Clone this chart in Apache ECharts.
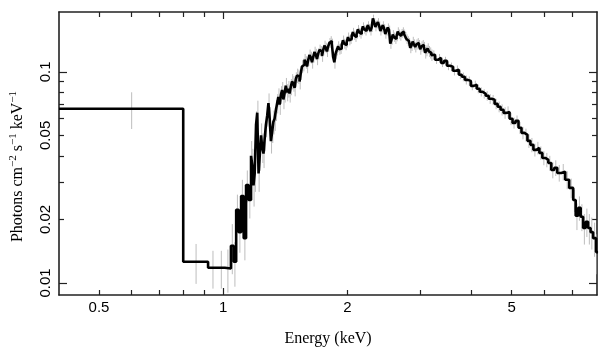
<!DOCTYPE html>
<html><head><meta charset="utf-8">
<script src="https://cdn.jsdelivr.net/npm/echarts@6/dist/echarts.min.js"></script>
<style>html,body{margin:0;padding:0;background:#fff}#c{width:609px;height:357px}</style>
</head><body><div id="c"></div>
<script>
// Lower bin edges (keV)
const binLo = [0.400,0.800,0.919,0.970,1.009,1.044,1.060,1.075,1.090,1.105,1.121,1.136,1.152,
1.168,1.176,1.184,1.192,1.201,1.209,1.218,1.226,1.235,1.243,1.252,1.260,1.269,1.278,1.287,1.296,1.305,1.314,1.323,1.332,1.342,1.351,
1.360,1.370,1.380,1.389,1.399,1.408,1.418,1.428,1.438,1.448,1.458,1.468,1.479,1.489,1.499,1.509,1.520,1.531,1.542,1.552,
1.563,1.574,1.585,1.596,1.607,1.618,1.630,1.641,1.653,1.664,1.676,1.687,1.699,1.711,1.723,1.735,1.747,1.759,1.771,1.783,
1.796,1.808,1.821,1.833,1.846,1.859,1.872,1.885,1.898,1.911,1.924,1.937,1.951,1.964,1.978,1.992,2.006,2.020,2.034,2.048,
2.062,2.076,2.091,2.105,2.120,2.135,2.150,2.165,2.180,2.195,2.211,2.226,2.242,2.257,2.273,2.289,2.305,2.321,2.337,2.353,
2.370,2.386,2.403,2.419,2.436,2.453,2.470,2.487,2.505,2.522,2.540,2.558,2.576,2.594,2.612,2.630,2.648,2.666,2.685,2.704,
2.723,2.742,2.761,2.780,2.799,2.819,2.839,2.858,2.878,2.898,2.919,2.939,2.959,2.980,3.001,3.022,3.043,3.064,3.085,3.106,
3.128,3.150,3.172,3.194,
3.216,3.261,3.316,3.371,3.428,3.485,3.544,3.603,3.664,3.725,3.787,3.851,3.915,3.981,4.048,4.116,4.185,4.255,4.326,4.399,
4.472,4.547,4.624,4.701,4.780,4.860,4.942,5.025,5.109,5.195,5.282,5.370,5.460,5.552,5.645,5.740,5.836,5.934,6.034,6.135,
6.238,6.343,6.449,6.594,6.742,6.893,7.049,7.147,7.248,7.349,7.450,7.555,7.660,7.767,7.876,8.008];
const binEnd = 8.097;
// Photons cm^-2 s^-1 keV^-1
const flux = [0.0668,0.0126,0.0118,0.0118,0.0117,0.0150,0.0126,0.0222,0.0174,0.0258,0.0163,0.0291,0.0247,
0.0400,0.0362,0.0290,0.0330,0.0560,0.0640,0.0330,0.0400,0.0500,0.0440,0.0410,0.0480,0.0560,0.0620,0.0710,0.0600,0.0470,0.0520,0.0580,0.0600,0.0660,0.0710,
0.0760,0.0700,0.0780,0.0820,0.0740,0.0790,0.0860,0.0800,0.0830,0.0790,0.0850,0.0900,0.0880,0.0840,0.0920,0.0960,0.0950,0.0900,0.0990,0.1060,
0.1080,0.1140,0.1110,0.1060,0.1140,0.1200,0.1170,0.1110,0.1180,0.1240,0.1210,0.1150,0.1220,0.1270,0.1250,0.1190,0.1270,0.1330,0.1300,0.1250,
0.1320,0.1370,0.1400,0.1360,0.1180,0.1110,0.1220,0.1270,0.1320,0.1280,0.1290,0.1340,0.1410,0.1360,0.1340,0.1380,0.1460,0.1410,0.1430,0.1480,
0.1540,0.1490,0.1460,0.1510,0.1590,0.1540,0.1510,0.1560,0.1640,0.1590,0.1560,0.1610,0.1660,0.1610,0.1560,0.1620,0.1790,0.1720,0.1630,0.1680,
0.1720,0.1660,0.1560,0.1610,0.1660,0.1610,0.1510,0.1560,0.1620,0.1580,0.1360,0.1420,0.1500,0.1460,0.1430,0.1470,0.1550,0.1510,0.1480,0.1520,
0.1550,0.1510,0.1470,0.1430,0.1400,0.1370,0.1300,0.1330,0.1390,0.1350,0.1310,0.1350,0.1370,0.1340,0.1280,0.1320,0.1340,0.1310,0.1230,0.1260,
0.1290,0.1250,0.1230,0.1200,
0.1204,0.1140,0.1165,0.1103,0.1128,0.1068,0.1056,0.1011,0.1022,0.0968,0.0947,0.0916,0.0906,0.0858,0.0868,0.0831,0.0804,0.0787,0.0770,0.0745,
0.0737,0.0705,0.0683,0.0661,0.0639,0.0646,0.0599,0.0573,0.0586,0.0543,0.0514,0.0503,0.0471,0.0451,0.0427,0.0436,0.0413,0.0391,0.0383,0.0370,
0.0343,0.0351,0.0332,0.0336,0.0308,0.0282,0.0247,0.0208,0.0227,0.0206,0.0182,0.0195,0.0182,0.0174,0.0163,0.0140];
// 1-sigma errors
const fluxErr = [0.0132,0.0027,0.0024,0.0024,0.0027,0.0040,0.0030,0.0040,0.0035,0.0050,0.0035,0.0050,0.0045,
0.0070,0.0070,0.0060,0.0060,0.0090,0.0090,0.0060,0.0060,0.0070,0.0070,0.0060,0.0060,0.0070,0.0070,0.0080,0.0080,0.0060,0.0060,
0.0075,0.0075,0.0075,0.0075,0.0075,0.0075,0.0075,0.0075,0.0075,0.0075,0.0075,0.0075,0.0075,0.0075,0.0075,0.0075,
0.0075,0.0075,0.0075,0.0075,0.0075,0.0075,0.0075,0.0075,0.0075,0.0075,0.0075,0.0075,0.0075,0.0075,0.0075,0.0075,
0.0075,0.0075,0.0075,0.0075,0.0075,0.0075,0.0075,0.0075,0.0075,0.0075,0.0075,0.0075,0.0075,0.0075,0.0075,0.0075,
0.0075,0.0075,0.0075,0.0075,0.0075,0.0075,0.0075,0.0075,0.0075,0.0075,0.0075,0.0075,0.0075,0.0075,0.0075,0.0075,
0.0075,0.0075,0.0075,0.0075,0.0075,0.0075,0.0075,0.0075,0.0075,0.0075,0.0075,0.0075,0.0075,0.0075,0.0075,0.0075,
0.0075,0.0075,0.0075,0.0075,0.0075,0.0075,0.0075,0.0075,0.0075,0.0075,0.0075,0.0075,0.0075,0.0075,0.0075,0.0075,
0.0075,0.0075,0.0075,0.0075,0.0075,0.0075,0.0075,0.0075,0.0075,0.0075,0.0075,0.0075,0.0075,0.0075,0.0075,0.0075,
0.0075,0.0075,0.0075,0.0075,0.0075,0.0075,0.0075,0.0075,0.0075,0.0075,0.0075,0.0075,0.0075,0.0075,0.0075,0.0075,
0.0060,
0.0050,0.0050,0.0050,0.0050,0.0050,0.0050,0.0050,0.0050,
0.0045,0.0045,0.0045,0.0045,
0.0040,0.0040,0.0040,0.0040,0.0040,0.0040,0.0040,0.0040,0.0040,0.0040,0.0040,0.0040,0.0040,0.0040,
0.0035,0.0035,0.0035,0.0035,0.0035,0.0035,0.0035,
0.0030,0.0030,0.0030,0.0030,0.0030,0.0030,0.0030,0.0030,0.0030,0.0030,0.0030,
0.0030,0.0030,0.0030,0.0030,0.0030,0.0030,0.0030,0.0030,0.0030,0.0030,0.0030];

const xTickLabels = [0.5, 1, 2, 5];
const xMinorTicks = [0.5, 0.6, 0.7, 0.8, 0.9, 2, 3, 4, 5, 6, 7];
const xMajorTicks = [1];
const yTickLabels = [0.01, 0.02, 0.05, 0.1];
const yMinorTicks = [0.02, 0.03, 0.04, 0.05, 0.06, 0.07, 0.08, 0.09];
const yMajorTicks = [0.01, 0.1];

if (binLo.length !== flux.length || flux.length !== fluxErr.length) {
  console.error('length mismatch', binLo.length, flux.length, fluxErr.length);
}

const stepData = binLo.map((e, i) => [e, flux[i]]).concat([[binEnd, flux[flux.length - 1]]]);
const errData = binLo.map((e, i) => {
  const hi = i + 1 < binLo.length ? binLo[i + 1] : binEnd;
  return [(e + hi) / 2, flux[i] - fluxErr[i], flux[i] + fluxErr[i]];
});

const AX = '#222';
const fmt = v => String(+(+v).toPrecision(3));
function xAx(pos, ticks, len, withLabels, withLine) {
  const a = {
    type: 'log', logBase: 10, min: 0.4, max: 8.05, position: pos,
    axisLine: { show: withLine, onZero: false, lineStyle: { color: AX, width: 1.6 } },
    axisTick: { show: true, inside: true, length: len, customValues: ticks, lineStyle: { color: AX, width: 1.2 } },
    axisLabel: withLabels ? { customValues: xTickLabels, formatter: fmt, fontFamily: 'Liberation Sans', fontSize: 15, color: '#000', margin: 5 } : { show: false },
    splitLine: { show: false }, minorTick: { show: false }
  };
  if (withLabels) {
    a.name = 'Energy (keV)'; a.nameLocation = 'middle'; a.nameGap = 36;
    a.nameTextStyle = { fontFamily: 'Liberation Serif', fontSize: 16, color: '#000' };
  }
  return a;
}
function yAx(pos, ticks, len, withLabels, withLine) {
  const a = {
    type: 'log', logBase: 10, min: 0.00877, max: 0.192, position: pos,
    axisLine: { show: withLine, onZero: false, lineStyle: { color: AX, width: 1.6 } },
    axisTick: { show: true, inside: true, length: len, customValues: ticks, lineStyle: { color: AX, width: 1.2 } },
    axisLabel: withLabels ? { customValues: yTickLabels, formatter: fmt, rotate: 90, fontFamily: 'Liberation Sans', fontSize: 15, color: '#000', margin: 6 } : { show: false },
    splitLine: { show: false }, minorTick: { show: false }
  };
  if (withLabels) {
    a.name = 'Photons cm{s|−2} s{s|−1} keV{s|−1}'; a.nameLocation = 'middle'; a.nameGap = 32; a.nameRotate = 90;
    a.nameTextStyle = { fontFamily: 'Liberation Serif', fontSize: 16, color: '#000', padding: [0, 26, 0, 0],
      rich: { s: { fontFamily: 'Liberation Serif', fontSize: 11, color: '#000', verticalAlign: 'top', padding: [0, 0, 8, 0] } } };
  }
  return a;
}

const chart = echarts.init(document.getElementById('c'), null, { renderer: 'canvas' });
chart.setOption({
  animation: false,
  backgroundColor: '#fff',
  grid: { left: 55, right: 12, top: 12, bottom: 62, containLabel: false },
  xAxis: [xAx('bottom', xMinorTicks, 5, true, true), xAx('bottom', xMajorTicks, 7, false, false),
          xAx('top', xMinorTicks, 5, false, true), xAx('top', xMajorTicks, 7, false, false)],
  yAxis: [yAx('left', yMinorTicks, 5, true, true), yAx('left', yMajorTicks, 8, false, false),
          yAx('right', yMinorTicks, 5, false, true), yAx('right', yMajorTicks, 8, false, false)],
  series: [
    {
      type: 'custom', xAxisIndex: 0, yAxisIndex: 0, clip: true, z: 1,
      encode: { x: 0, y: [1, 2] },
      data: errData,
      renderItem: function (params, api) {
        const p1 = api.coord([api.value(0), api.value(1)]);
        const p2 = api.coord([api.value(0), api.value(2)]);
        return { type: 'line', shape: { x1: p1[0], y1: p1[1], x2: p2[0], y2: p2[1] }, style: { stroke: '#bdbdbd', lineWidth: 1 } };
      }
    },
    {
      type: 'line', xAxisIndex: 0, yAxisIndex: 0, step: 'end', showSymbol: false, symbol: 'none', clip: true, z: 2,
      lineStyle: { color: '#000', width: 2.6 },
      data: stepData
    }
  ]
});
</script></body></html>
